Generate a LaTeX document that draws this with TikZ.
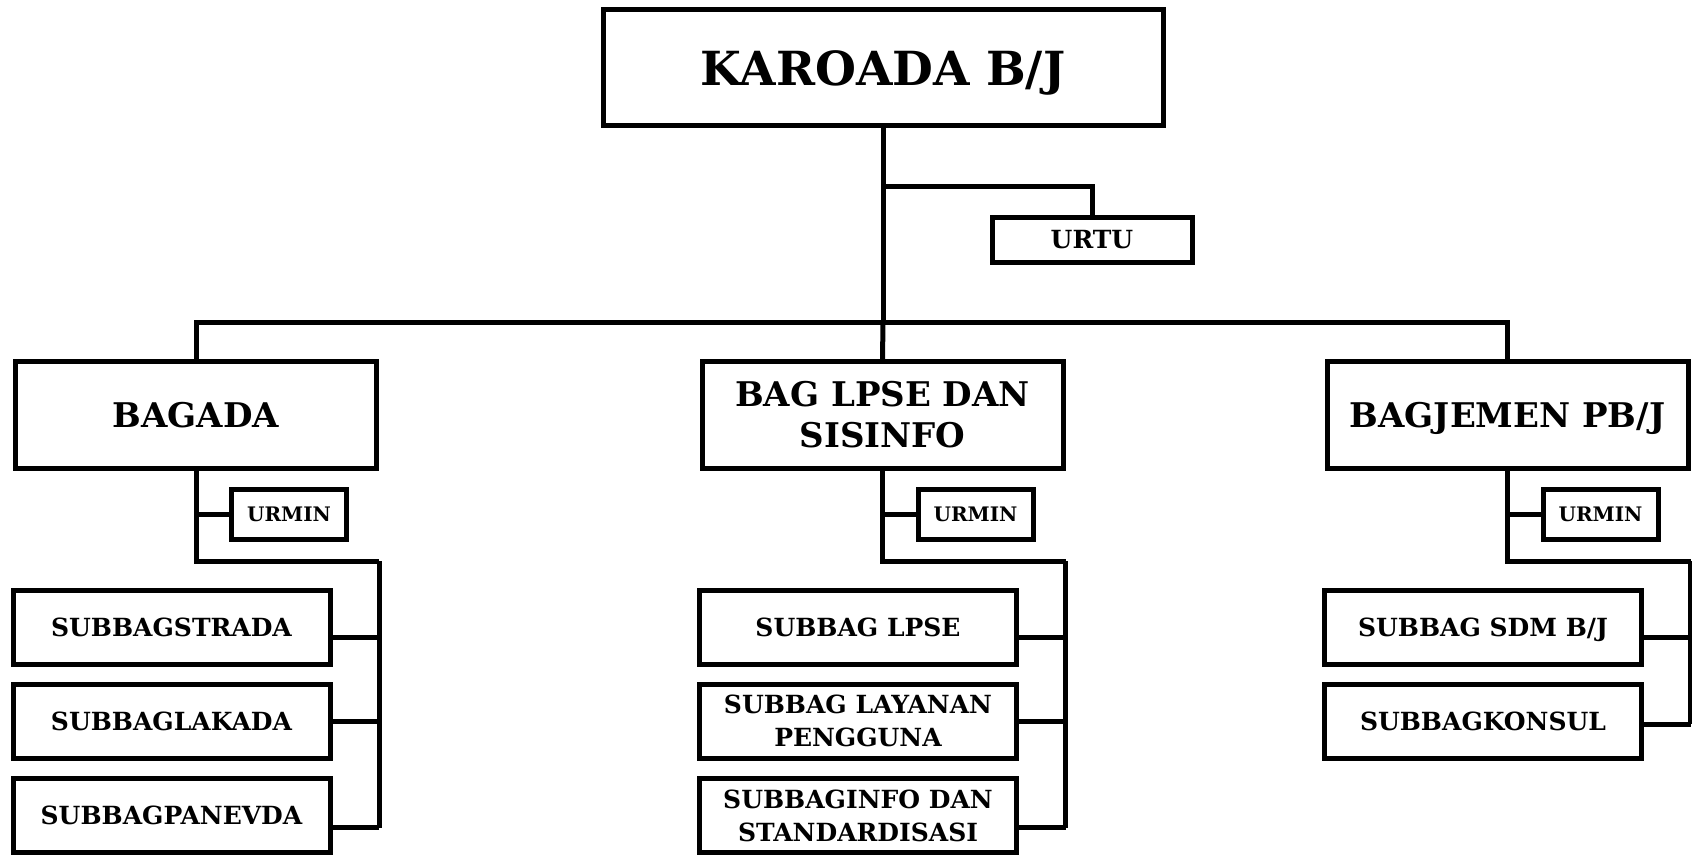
\documentclass[tikz,border=0pt]{standalone}
\usepackage{fontspec}
\setmainfont{DejaVu Serif}
\usetikzlibrary{calc}
\tikzset{
  unit/.style={draw, line width=5pt, inner sep=0pt, align=center, font=\bfseries},
  headbox/.style={unit, minimum width=560pt, minimum height=116pt, font=\fontsize{47}{50}\selectfont\bfseries},
  bagbox/.style={unit, minimum width=361pt, minimum height=107pt, font=\fontsize{34}{41}\selectfont\bfseries},
  subbox/.style={unit, minimum width=317pt, minimum height=74pt, font=\fontsize{25}{33}\selectfont\bfseries},
  urbox/.style={unit, minimum width=115pt, minimum height=50pt, font=\fontsize{20}{24}\selectfont\bfseries},
  urtubox/.style={unit, minimum width=200pt, minimum height=45pt, font=\fontsize{25}{28}\selectfont\bfseries},
  nodepth/.style={text depth=0pt},
  link/.style={line width=5pt, line join=miter},
}
\begin{document}
\begin{tikzpicture}[x=1pt,y=-1pt]
\useasboundingbox (0,0) rectangle (1692,856);

% top level
\node[headbox, nodepth] (karo) at (883,68) {KAROADA B/J};
\node[urtubox] (urtu) at (1092,239.5) {URTU};

% departments
\node[bagbox] (bagada) at (196,415) {BAGADA};
\node[bagbox] (lpse) at (882.5,415) {BAG LPSE DAN\\SISINFO};
\node[bagbox, nodepth] (jemen) at (1507.5,415) {BAGJEMEN PB/J};

% administrative units
\node[urbox] (urA) at (289,514) {URMIN};
\node[urbox] (urB) at (975.5,514) {URMIN};
\node[urbox] (urC) at (1600.5,514) {URMIN};

% sub-sections
\node[subbox] (sA1) at (171.5,627) {SUBBAGSTRADA};
\node[subbox] (sA2) at (171.5,721.3) {SUBBAGLAKADA};
\node[subbox] (sA3) at (171.5,815.5) {SUBBAGPANEVDA};

\node[subbox] (sB1) at (858,627) {SUBBAG LPSE};
\node[subbox] (sB2) at (858,721.3) {SUBBAG LAYANAN\\PENGGUNA};
\node[subbox] (sB3) at (858,815.5) {SUBBAGINFO DAN\\STANDARDISASI};

\node[subbox, nodepth] (sC1) at (1483,627) {SUBBAG SDM B/J};
\node[subbox] (sC2) at (1483,721.3) {SUBBAGKONSUL};

% head links
\coordinate (bus) at (883,322.6);
\draw[link] (karo.south) -- (bus);
\draw[link] (karo.south |- 0,186.7) -| (urtu.north);
\draw[link] (bagada.north) |- (bus) -| (jemen.north);
\draw[link] (bus) -- (lpse.north);

% department links
\foreach \d/\u/\s in {bagada/urA/A, lpse/urB/B, jemen/urC/C}{
  \draw[link] (\d.south) -- (\d.south |- \u.west) -- (\u.west);
  \coordinate (turn\s) at ($(\d.south)+(0,90)$);
  \draw[link] (\d.south |- \u.west) -- (turn\s) -- (turn\s -| \d.east);
}
% vertical buses to the sub-sections
\draw[link] (turnA -| bagada.east) -- ([yshift=-12pt]sA3.east -| bagada.east);
\draw[link] (turnB -| lpse.east) -- ([yshift=-12pt]sB3.east -| lpse.east);
\draw[link] (turnC -| jemen.east) -- ([yshift=-3pt]sC2.east -| jemen.east);

\draw[link] ([yshift=-10pt]sA1.east) -- ([yshift=-10pt]sA1.east -| bagada.east);
\draw[link] (sA2.east) -- (sA2.east -| bagada.east);
\draw[link] ([yshift=-12pt]sA3.east) -- ([yshift=-12pt]sA3.east -| bagada.east);

\draw[link] ([yshift=-10pt]sB1.east) -- ([yshift=-10pt]sB1.east -| lpse.east);
\draw[link] (sB2.east) -- (sB2.east -| lpse.east);
\draw[link] ([yshift=-12pt]sB3.east) -- ([yshift=-12pt]sB3.east -| lpse.east);

\draw[link] ([yshift=-10pt]sC1.east) -- ([yshift=-10pt]sC1.east -| jemen.east);
\draw[link] ([yshift=-3pt]sC2.east) -- ([yshift=-3pt]sC2.east -| jemen.east);
\end{tikzpicture}
\end{document}
